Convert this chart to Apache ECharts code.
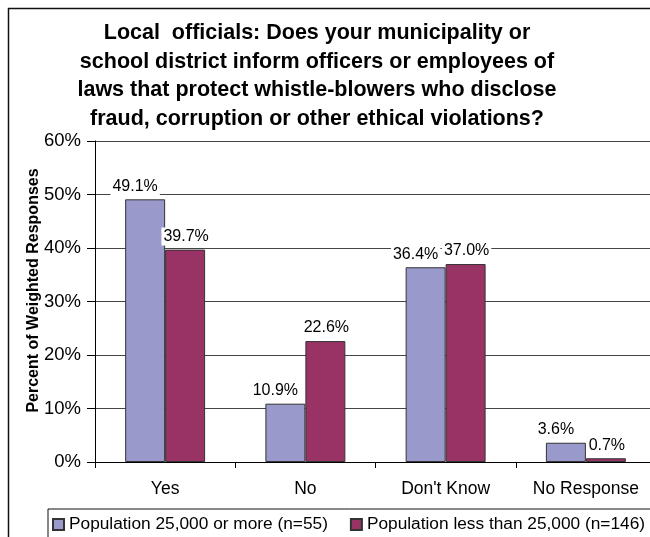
<!DOCTYPE html>
<html>
<head>
<meta charset="utf-8">
<script src="https://cdn.jsdelivr.net/npm/echarts@6/dist/echarts.min.js"></script>
<style>
  html, body { margin: 0; padding: 0; background: #fff; }
  #chart { width: 650px; height: 537px; }
</style>
</head>
<body>
<div id="chart"></div>
<script>
// Survey answers for local officials, by municipality size
const categories = ["Yes", "No", "Don't Know", "No Response"];
const largePop = [49.1, 10.9, 36.4, 3.6];   // Population 25,000 or more (n=55)
const smallPop = [39.7, 22.6, 37.0, 0.7];   // Population less than 25,000 (n=146)
const seriesNames = ["Population 25,000 or more (n=55)", "Population less than 25,000 (n=146)"];
const yTicks = { min: 0, max: 60, step: 10 };
const titleText = "Local  officials: Does your municipality or\nschool district inform officers or employees of\nlaws that protect whistle-blowers who disclose\nfraud, corruption or other ethical violations?";
const yAxisTitle = "Percent of Weighted Responses";

const FONT = "'Liberation Sans', Arial, sans-serif";

const chart = echarts.init(document.getElementById('chart'), null, { renderer: 'canvas' });

// value labels sit above each bar on a white box
function barLabel(dx) {
  return {
    show: true,
    position: 'top',
    distance: 4,
    offset: [dx, 0],
    formatter: p => p.value.toFixed(1) + '%',
    fontFamily: FONT,
    fontSize: 16,
    color: '#000',
    backgroundColor: '#fff',
    padding: [1, 2]
  };
}

chart.setOption({
  animation: false,
  backgroundColor: '#fff',
  textStyle: { fontFamily: FONT },
  title: {
    text: titleText,
    left: 312,
    top: 14,
    textAlign: 'center',
    textStyle: {
      fontFamily: FONT,
      fontSize: 21.5,
      fontWeight: 'bold',
      color: '#000',
      lineHeight: 28.5
    }
  },
  graphic: [{
    type: 'rect',
    shape: { x: 8.5, y: 8.5, width: 700, height: 600 },
    style: { fill: 'none', stroke: '#111', lineWidth: 1.5 },
    silent: true,
    z: -1
  }],
  legend: {
    left: 48,
    top: 509,
    width: 640,
    orient: 'horizontal',
    itemWidth: 11,
    itemHeight: 11,
    itemGap: 22,
    padding: [7, 8, 30, 4],
    borderColor: '#111',
    borderWidth: 1,
    icon: 'rect',
    textStyle: { fontFamily: FONT, fontSize: 17.3, color: '#000' },
    data: seriesNames
  },
  grid: {
    left: 95,
    top: 141,
    width: 561,
    height: 321,
    containLabel: false,
    outerBoundsMode: 'none'
  },
  xAxis: {
    type: 'category',
    data: categories,
    axisLine: { show: true, lineStyle: { color: '#000', width: 1 } },
    axisTick: { show: true, length: 6, lineStyle: { color: '#000' } },
    axisLabel: { interval: 0, fontFamily: FONT, fontSize: 17.5, color: '#000', margin: 18 }
  },
  yAxis: {
    type: 'value',
    min: yTicks.min,
    max: yTicks.max,
    interval: yTicks.step,
    name: yAxisTitle,
    nameLocation: 'middle',
    nameRotate: 90,
    nameGap: 53,
    nameMoveOverlap: false,
    nameTextStyle: {
      fontFamily: FONT,
      fontSize: 16,
      fontWeight: 'bold',
      color: '#000',
      padding: [0, 0, 0, 22]
    },
    axisLine: { show: true, lineStyle: { color: '#000', width: 1 } },
    axisTick: { show: true, length: 8, lineStyle: { color: '#000' } },
    axisLabel: {
      formatter: '{value}%',
      fontFamily: FONT,
      fontSize: 18.5,
      color: '#000',
      margin: 14
    },
    splitLine: { show: true, lineStyle: { color: '#444', width: 1 } }
  },
  series: [
    {
      name: seriesNames[0],
      type: 'bar',
      data: largePop,
      barGap: '0%',
      barCategoryGap: '43%',
      itemStyle: { color: '#9999cc', borderColor: '#333', borderWidth: 1 },
      label: barLabel(-10)
    },
    {
      name: seriesNames[1],
      type: 'bar',
      data: smallPop,
      itemStyle: { color: '#993366', borderColor: '#333', borderWidth: 1 },
      label: barLabel(1)
    }
  ]
});
</script>
</body>
</html>
